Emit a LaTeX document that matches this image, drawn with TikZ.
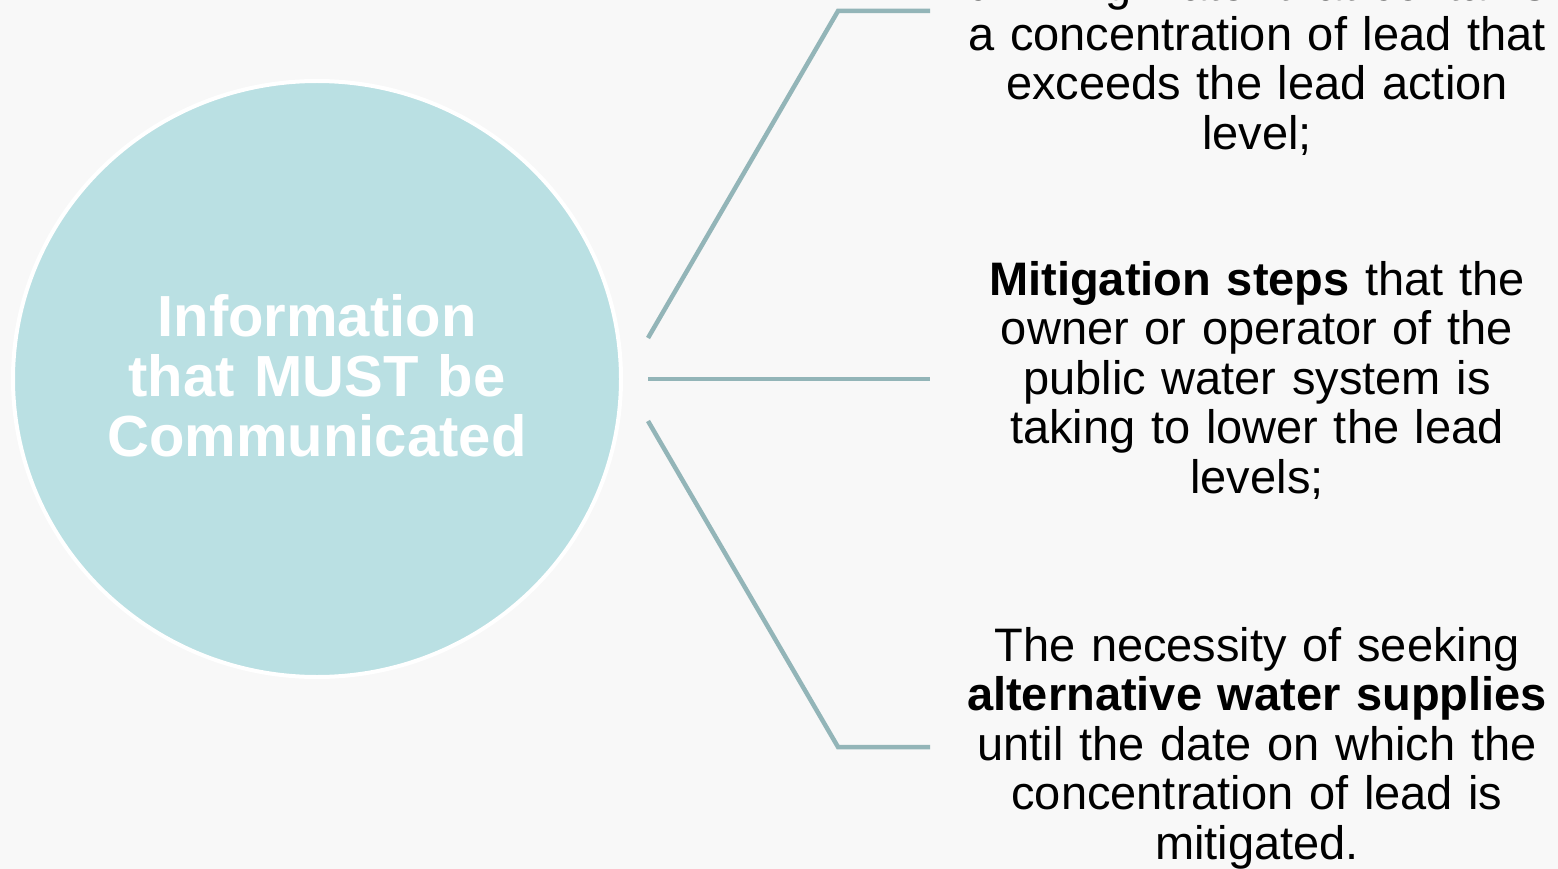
\documentclass[tikz,border=0pt]{standalone}
\usepackage{fontspec}
\setmainfont{Liberation Sans}
\usetikzlibrary{shapes.geometric}
\definecolor{bgc}{HTML}{F8F8F8}
\definecolor{circ}{HTML}{BAE0E3}
\definecolor{conn}{HTML}{93B5B8}
\tikzset{
  connector/.style={draw=conn, line width=4.5pt},
  itemtext/.style={text width=640pt, align=center, inner sep=0pt, font=\fontsize{47}{49.5}\selectfont, text=black},
  hubtext/.style={text width=560pt, align=center, inner sep=0pt, font=\fontsize{58}{60}\selectfont\bfseries, text=white}
}
\begin{document}
\begin{tikzpicture}[x=1pt,y=-1pt]
\useasboundingbox (0,0) rectangle (1558,869);
\clip (0,0) rectangle (1558,869);
\fill[bgc] (0,0) rectangle (1558,869);
% hub
\node[ellipse, minimum width=608pt, minimum height=596pt, fill=circ, draw=white, line width=4pt, inner sep=0pt] (hub) at (317,379) {};
\node[hubtext] (hubt) at (317,376) {Information\\that MUST be\\Communicated};
% connector coordinates
\coordinate (s1) at (648,338);
\coordinate (s2) at (648,379);
\coordinate (s3) at (648,421);
\coordinate (b1) at (838,11);
\coordinate (b3) at (838,747);
\coordinate (e1) at (930,11);
\coordinate (e2) at (930,379);
\coordinate (e3) at (930,747);
\draw[connector] (s1) -- (b1) -- (e1);
\draw[connector] (s2) -- (e2);
\draw[connector] (s3) -- (b3) -- (e3);
% texts
\node[itemtext] (t1) at (1257,61) {drinking water that contains\\a concentration of lead that\\exceeds the lead action\\level;};
\node[itemtext] (t2) at (1257,380) {\textbf{Mitigation steps} that the\\owner or operator of the\\public water system is\\taking to lower the lead\\levels;};
\node[itemtext] (t3) at (1257,748) {The necessity of seeking\\\textbf{alternative water supplies}\\until the date on which the\\concentration of lead is\\mitigated.};
\end{tikzpicture}
\end{document}
